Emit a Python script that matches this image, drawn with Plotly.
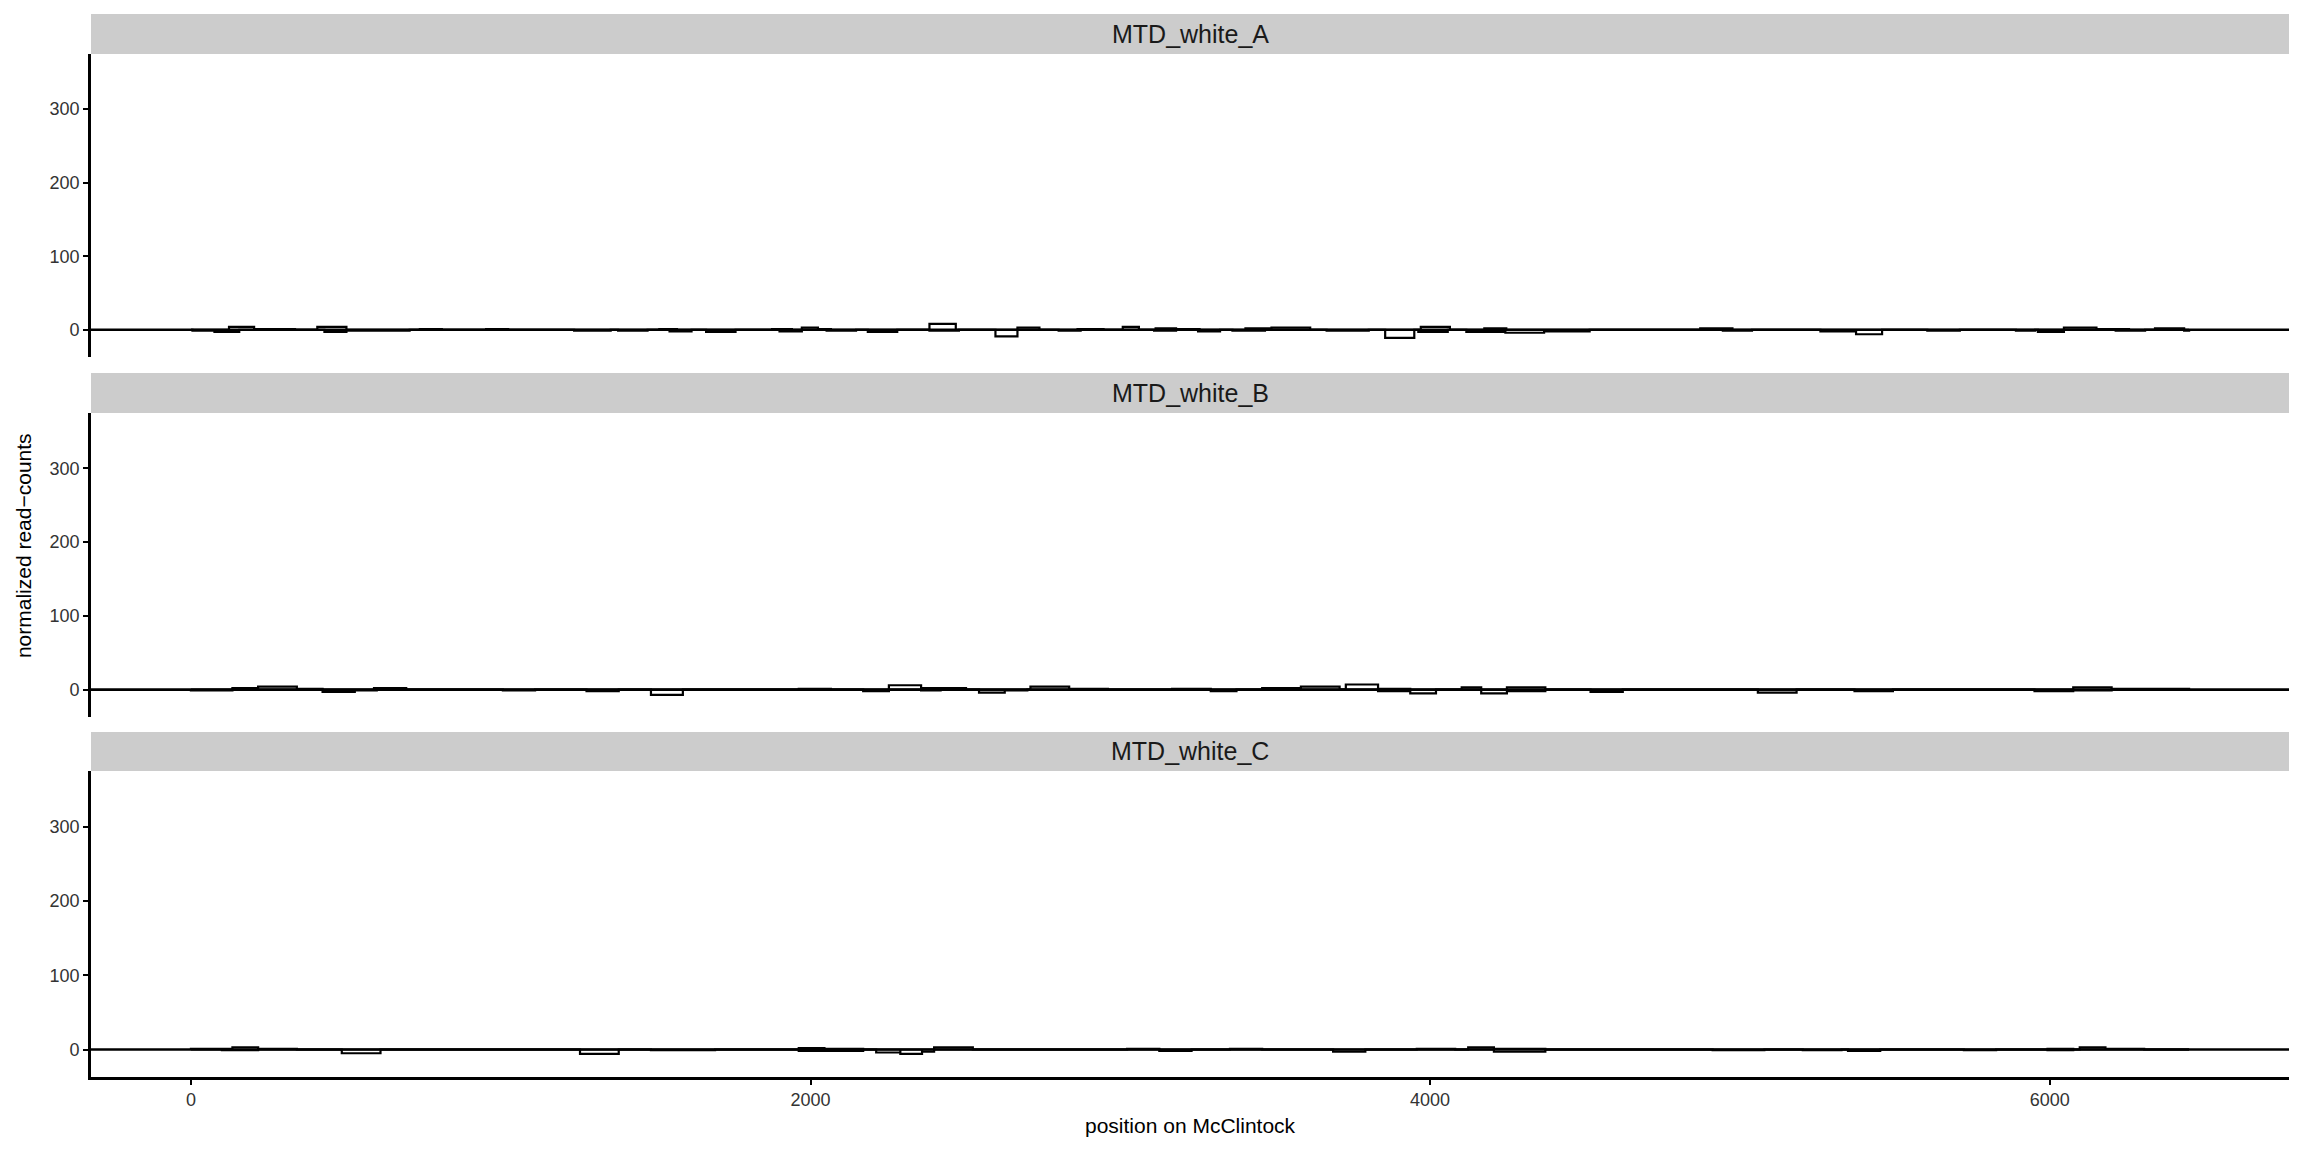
import plotly.graph_objects as go

# ---------------- data ----------------
panels = ["MTD_white_A", "MTD_white_B", "MTD_white_C"]
x_max = 6450
x_ticks = [0, 2000, 4000, 6000]
y_ticks = [0, 100, 200, 300]

# bins: (start, end, normalized read-count)
A_sense = [(123, 204, 4), (204, 336, 1), (408, 502, 4), (739, 810, 1), (953, 1024, 1),
           (1512, 1569, 1), (1876, 1940, 1), (1972, 2024, 3), (2024, 2066, 1),
           (2384, 2469, 8), (2668, 2739, 3), (2862, 2946, 1), (3008, 3060, 4),
           (3114, 3180, 2), (3180, 3256, 1), (3404, 3488, 2), (3488, 3613, 3),
           (3970, 4064, 4), (4175, 4246, 2), (4872, 4976, 2), (6046, 6151, 3),
           (6151, 6256, 1), (6340, 6434, 2)]
A_anti = [(5, 76, -1), (76, 156, -3), (431, 502, -3), (502, 706, -1), (1237, 1355, -1),
          (1379, 1474, -1), (1545, 1616, -2), (1663, 1758, -3), (1900, 1972, -2),
          (2052, 2147, -1), (2185, 2280, -3), (2384, 2479, -1), (2597, 2668, -9),
          (2801, 2872, -1), (3109, 3180, -1), (3251, 3322, -2), (3362, 3467, -1),
          (3666, 3802, -1), (3855, 3949, -11), (3962, 4057, -3), (4117, 4243, -3),
          (4243, 4368, -4), (4368, 4515, -2), (4945, 5039, -1), (5260, 5375, -2),
          (5375, 5459, -6), (5605, 5710, -1), (5891, 5953, -1), (5962, 6046, -3),
          (6213, 6308, -1), (6434, 6450, -1)]

B_sense = [(134, 217, 2), (217, 342, 4), (342, 425, 1), (591, 695, 2), (1962, 2066, 1),
           (2253, 2357, 6), (2357, 2502, 2), (2710, 2835, 4), (2835, 2960, 1),
           (3167, 3292, 1), (3458, 3583, 2), (3583, 3708, 4), (3728, 3832, 7),
           (3832, 3936, 1), (4102, 4165, 3), (4248, 4372, 3), (6076, 6200, 3),
           (6200, 6450, 1)]
B_anti = [(0, 134, -1), (425, 529, -3), (529, 600, -1), (1007, 1111, -1), (1277, 1381, -2),
          (1485, 1588, -7), (2170, 2253, -2), (2357, 2420, -1), (2544, 2627, -4),
          (2627, 2700, -1), (3292, 3375, -2), (3832, 3936, -2), (3936, 4019, -5),
          (4165, 4248, -5), (4248, 4372, -2), (4518, 4622, -3), (5058, 5183, -4),
          (5370, 5494, -2), (5951, 6076, -2), (6076, 6200, -1)]

C_sense = [(0, 134, 1), (134, 217, 3), (217, 342, 1), (1962, 2045, 2), (2045, 2170, 1),
           (2399, 2524, 3), (3022, 3126, 1), (3354, 3458, 1), (3957, 4081, 1),
           (4123, 4206, 3), (4206, 4372, 1), (5993, 6076, 1), (6097, 6180, 3),
           (6180, 6305, 1)]
C_anti = [(100, 217, -1), (487, 612, -5), (1256, 1381, -6), (1485, 1692, -1),
          (1962, 2170, -2), (2212, 2290, -4), (2290, 2360, -6), (2360, 2399, -3),
          (3126, 3230, -2), (3687, 3791, -3), (4206, 4372, -3), (4912, 5079, -1),
          (5203, 5328, -1), (5349, 5453, -2), (5723, 5827, -1), (5993, 6076, -1)]

series = [(A_sense, A_anti), (B_sense, B_anti), (C_sense, C_anti)]

# ---------------- layout constants ----------------
# page body has an 8px margin, so the figure is 8px smaller on each axis
W, H = 2296, 1144
ML, MR, MT, MB = 83, 15, 6, 75
FONT = "Liberation Sans, Arial, Helvetica, sans-serif"
x_range = [-0.05 * x_max, 1.05 * x_max]
y_range = [-37, 375]
plot_doms = [[0.6773, 0.9624], [0.3387, 0.6246], [0.0, 0.2879]]
strip_doms = [[0.9624, 1.0], [0.6246, 0.6623], [0.2879, 0.3246]]


def step_xy(bins):
    xs, ys = [0], [0]
    for s, e, v in sorted(bins):
        xs += [s, e]
        ys += [v, 0]
    xs.append(x_max)
    ys.append(0)
    return xs, ys


fig = go.Figure()
shapes = []
annotations = []

for i, (name, (sense, anti)) in enumerate(zip(panels, series)):
    k = "" if i == 0 else str(i + 1)
    for bins in (sense, anti):
        xs, ys = step_xy(bins)
        fig.add_trace(go.Scatter(x=xs, y=ys, mode="lines", line_shape="hv",
                                 line=dict(color="black", width=2.2),
                                 xaxis="x" + k, yaxis="y" + k, showlegend=False,
                                 hoverinfo="skip"))
    shapes.append(dict(type="line", xref=f"x{k} domain", yref="y" + k,
                       x0=0, x1=1, y0=0, y1=0, line=dict(color="black", width=2.6),
                       layer="above"))
    shapes.append(dict(type="rect", xref="paper", yref="paper", x0=0, x1=1,
                       y0=strip_doms[i][0], y1=strip_doms[i][1],
                       fillcolor="#CCCCCC", line=dict(width=0), layer="below"))
    annotations.append(dict(text=name, xref="paper", yref="paper", x=0.5,
                            y=(strip_doms[i][0] + strip_doms[i][1]) / 2,
                            xanchor="center", yanchor="middle", showarrow=False,
                            font=dict(family=FONT, size=25, color="#1A1A1A")))
    bottom = (i == 2)
    fig.update_layout(**{
        "xaxis" + k: dict(domain=[0, 1], range=x_range, anchor="y" + k,
                          tickvals=x_ticks, showticklabels=bottom,
                          ticks="outside" if bottom else "", ticklen=5, tickwidth=2,
                          tickcolor="black", showline=bottom, linecolor="black",
                          linewidth=2.6, showgrid=False, zeroline=False,
                          tickfont=dict(family=FONT, size=18, color="#333333"),
                          matches=None if i == 0 else "x"),
        "yaxis" + k: dict(domain=plot_doms[i], range=y_range, anchor="x" + k,
                          tickvals=y_ticks, ticks="outside", ticklen=5, tickwidth=2,
                          tickcolor="black", showline=True, linecolor="black",
                          linewidth=2.6, showgrid=False, zeroline=False,
                          tickfont=dict(family=FONT, size=18, color="#333333")),
    })

annotations.append(dict(text="position on McClintock", xref="paper", yref="paper",
                        x=0.5, y=-0.0452, xanchor="center", yanchor="middle",
                        showarrow=False, font=dict(family=FONT, size=21, color="black")))
annotations.append(dict(text="normalized read\u2212counts", xref="paper", yref="paper",
                        x=-0.0309, y=0.4995, xanchor="center", yanchor="middle",
                        textangle=-90, showarrow=False,
                        font=dict(family=FONT, size=21, color="black")))

fig.update_layout(width=W, height=H, margin=dict(l=ML, r=MR, t=MT, b=MB),
                  paper_bgcolor="white", plot_bgcolor="white",
                  shapes=shapes, annotations=annotations, showlegend=False)

fig.write_html("out.html")
